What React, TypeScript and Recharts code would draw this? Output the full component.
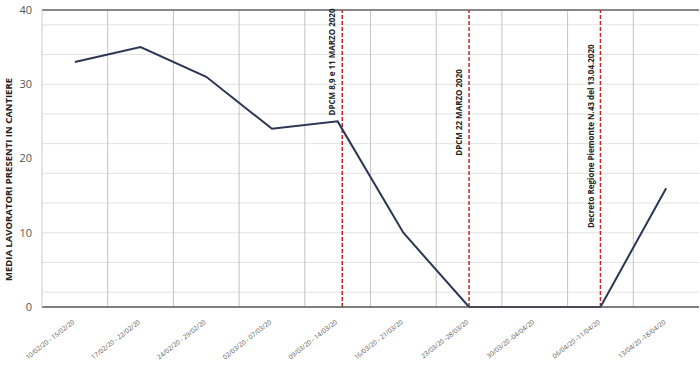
import { CartesianGrid, Line, LineChart, ReferenceLine, XAxis, YAxis } from 'recharts'

const WEEKS = [
  '10/02/20 - 15/02/20',
  '17/02/20 - 22/02/20',
  '24/02/20 - 29/02/20',
  '02/03/20 - 07/03/20',
  '09/03/20 - 14/03/20',
  '16/03/20 - 21/03/20',
  '23/03/20 -28/03/20',
  '30/03/20 -04/04/20',
  '06/04/20 -11/04/20',
  '13/04/20 -18/04/20',
]
const MEDIA = [33, 35, 31, 24, 25, 10, 0, 0, 0, 16]

// decreti: posizione sull'asse settimane e quota (valore) del centro dell'etichetta
const EVENT_X = [4.07, 6, 8]
const EVENT_LABELS = [
  'DPCM 8,9 e 11 MARZO 2020',
  'DPCM 22 MARZO 2020',
  'Decreto Regione Piemonte N.43 del 13.04.2020',
]
const EVENT_LABEL_AT = [33, 26.2, 23]

const Y_TICKS = [0, 10, 20, 30, 40]
const Y_MINOR = [2, 4, 6, 8, 10, 12, 14, 16, 18, 20, 22, 24, 26, 28, 30, 32, 34, 36, 38]
const X_BOUNDS = [0.5, 1.5, 2.5, 3.5, 4.5, 5.5, 6.5, 7.5, 8.5]

const rows = WEEKS.map((w, i) => ({ idx: i, week: w, media: MEDIA[i] }))

const FONT = '"Open Sans", "Liberation Sans", sans-serif'

function WeekTick({ x, y, payload }: any) {
  return (
    <g transform={`translate(${x},${y + 8})`}>
      <text
        x={0}
        y={0}
        textAnchor="end"
        transform="rotate(-38)"
        fontSize={6.5}
        fill="#555"
        fontFamily={FONT}
      >
        {WEEKS[payload.value]}
      </text>
    </g>
  )
}

function eventLabel(text: string, at: number) {
  return (props: any) => {
    const vb = props.viewBox
    const cx = vb.x - 9
    const cy = vb.y + vb.height * (1 - at / 40)
    return (
      <text
        x={cx}
        y={cy}
        transform={`rotate(-90, ${cx}, ${cy})`}
        textAnchor="middle"
        dominantBaseline="middle"
        fontSize={8}
        fontWeight="bold"
        fill="#222"
        fontFamily={FONT}
      >
        {text}
      </text>
    )
  }
}

function yTitle(props: any) {
  const vb = props.viewBox
  const cx = vb.x + 9
  const cy = vb.y + vb.height / 2 + 21
  return (
    <text
      x={cx}
      y={cy}
      transform={`rotate(-90, ${cx}, ${cy})`}
      textAnchor="middle"
      dominantBaseline="middle"
      fontSize={9.5}
      fontWeight="bold"
      fill="#222"
      fontFamily={FONT}
    >
      MEDIA LAVORATORI PRESENTI IN CANTIERE
    </text>
  )
}

export default function App() {
  return (
    <div style={{ position: 'absolute', left: 0, top: 0, background: '#fff' }}>
      <LineChart width={700} height={367} data={rows} margin={{ top: 10, right: 1, left: 0, bottom: 0 }}>
        <CartesianGrid horizontalValues={Y_MINOR} vertical={false} stroke="#e2e2e2" />
        <CartesianGrid verticalValues={X_BOUNDS} horizontal={false} stroke="#c4c4c4" />
        <XAxis
          dataKey="idx"
          type="number"
          domain={[-0.5, 9.5]}
          ticks={[0, 1, 2, 3, 4, 5, 6, 7, 8, 9]}
          interval={0}
          height={60}
          tickLine={false}
          axisLine={{ stroke: '#555', strokeWidth: 1.5 }}
          tick={<WeekTick />}
        />
        <YAxis
          width={42}
          domain={[0, 40]}
          ticks={Y_TICKS}
          tickLine={false}
          tickSize={0}
          tickMargin={10}
          axisLine={{ stroke: '#ccc' }}
          tick={{ fontSize: 11, fill: '#555', fontFamily: FONT }}
          label={{ content: yTitle }}
        />
        <ReferenceLine y={40} stroke="#888" strokeWidth={2} />
        {EVENT_X.map((x, i) => (
          <ReferenceLine
            key={EVENT_LABELS[i]}
            x={x}
            stroke="#c62828"
            strokeWidth={1.5}
            strokeDasharray="4 2"
            label={eventLabel(EVENT_LABELS[i], EVENT_LABEL_AT[i])}
          />
        ))}
        <Line
          dataKey="media"
          stroke="#2b3654"
          strokeWidth={2}
          dot={false}
          isAnimationActive={false}
        />
      </LineChart>
    </div>
  )
}
